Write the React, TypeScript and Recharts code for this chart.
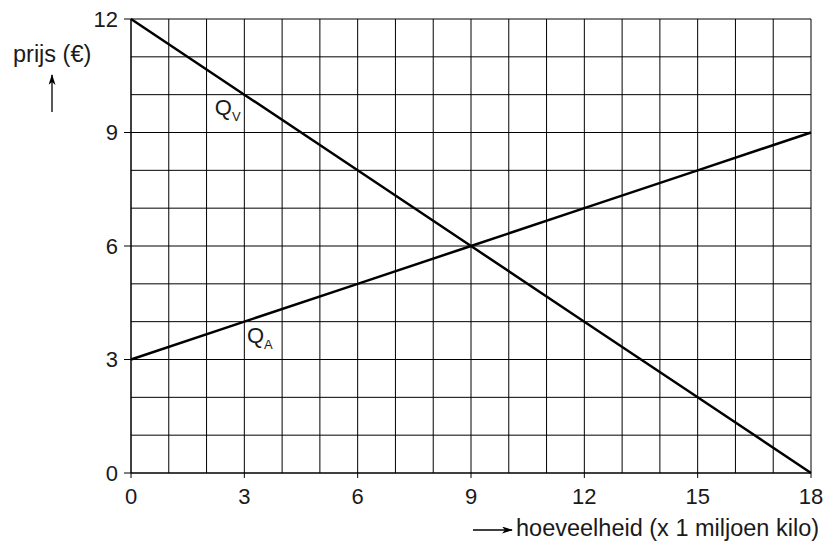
import {
  CartesianGrid,
  Line,
  LineChart,
  ReferenceDot,
  XAxis,
  YAxis,
} from "recharts";

// hoeveelheid (x 1 miljoen kilo)
const hoeveelheid = [0, 3, 6, 9, 12, 15, 18];
// vraaglijn Qv
const vraag = [12, 10, 8, 6, 4, 2, 0];
// aanbodlijn Qa
const aanbod = [3, 4, 5, 6, 7, 8, 9];

const xTicks = [0, 3, 6, 9, 12, 15, 18];
const yTicks = [0, 3, 6, 9, 12];
const gridX = [0, 1, 2, 3, 4, 5, 6, 7, 8, 9, 10, 11, 12, 13, 14, 15, 16, 17, 18];
const gridY = [0, 1, 2, 3, 4, 5, 6, 7, 8, 9, 10, 11, 12];

const FONT = "'Liberation Sans', Arial, sans-serif";
const INK = "#1a1a1a";

const chartData = hoeveelheid.map((q, i) => ({
  q,
  vraag: vraag[i],
  aanbod: aanbod[i],
}));

const qLabel = (sub: string) => (props: any) => (
  <text x={props.cx} y={props.cy} fontFamily={FONT} fontSize={22} fill={INK}>
    Q
    <tspan fontSize={13} dy={6}>
      {sub}
    </tspan>
  </text>
);

const App = () => {
  return (
    <div style={{ position: "absolute", left: 0, top: 0, width: 827, height: 544 }}>
      <LineChart
        width={827}
        height={544}
        data={chartData}
        margin={{ top: 19, right: 16, left: 0, bottom: 0 }}
      >
        <XAxis xAxisId="grid" dataKey="q" type="number" domain={[0, 18]} ticks={gridX} hide />
        <YAxis yAxisId="grid" dataKey="vraag" type="number" domain={[0, 12]} ticks={gridY} hide />
        <CartesianGrid xAxisId="grid" yAxisId="grid" stroke="#000" strokeWidth={1} />
        <XAxis
          dataKey="q"
          type="number"
          domain={[0, 18]}
          ticks={xTicks}
          height={71}
          tickSize={5}
          tickMargin={10}
          stroke="#000"
          tick={{ fill: INK, fontSize: 22, fontFamily: FONT }}
        />
        <YAxis
          type="number"
          domain={[0, 12]}
          ticks={yTicks}
          width={131}
          tickSize={7}
          tickMargin={6}
          stroke="#000"
          tick={{ fill: INK, fontSize: 22, fontFamily: FONT }}
        />
        <Line
          dataKey="vraag"
          stroke="#000"
          strokeWidth={2.5}
          dot={false}
          isAnimationActive={false}
        />
        <Line
          dataKey="aanbod"
          stroke="#000"
          strokeWidth={2.5}
          dot={false}
          isAnimationActive={false}
        />
        <ReferenceDot x={2.22} y={9.46} r={0} shape={qLabel("V")} />
        <ReferenceDot x={3.07} y={3.44} r={0} shape={qLabel("A")} />
      </LineChart>
      <svg
        width={827}
        height={544}
        style={{ position: "absolute", left: 0, top: 0, pointerEvents: "none" }}
      >
        <defs>
          <marker id="pijl" markerWidth="11" markerHeight="7" refX="10" refY="3.5" orient="auto" markerUnits="userSpaceOnUse">
            <path d="M0,0 L11,3.5 L0,7 L3,3.5 Z" fill="#000" />
          </marker>
        </defs>
        <text x={13} y={62} fontFamily={FONT} fontSize={23.5} fill={INK}>
          prijs (€)
        </text>
        <line x1={52} y1={112} x2={52} y2={75} stroke="#000" strokeWidth={1.3} markerEnd="url(#pijl)" />
        <line x1={473} y1={530} x2={512} y2={530} stroke="#000" strokeWidth={1.3} markerEnd="url(#pijl)" />
        <text x={516} y={536} fontFamily={FONT} fontSize={23.5} fill={INK}>
          hoeveelheid (x 1 miljoen kilo)
        </text>
      </svg>
    </div>
  );
};

export default App;
